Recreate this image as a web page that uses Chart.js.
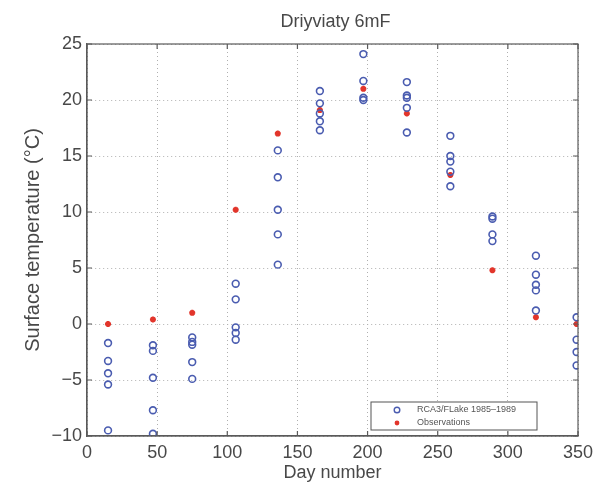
<!DOCTYPE html>
<html>
<head>
<meta charset="utf-8">
<title>Driyviaty 6mF</title>
<script src="https://cdn.jsdelivr.net/npm/chart.js@4.4.1/dist/chart.umd.min.js"></script>
<style>
  html, body { margin: 0; padding: 0; background: #fff; }
</style>
</head>
<body>
<canvas id="chart" width="604" height="485"></canvas>
<script>
// Day numbers of the sampled dates
const days = [15, 47, 75, 106, 136, 166, 197, 228, 259, 289, 320, 349];

// Observed surface temperature (deg C)
const obsTemps = [0.0, 0.4, 1.0, 10.2, 17.0, 19.1, 21.0, 18.8, 13.3, 4.8, 0.6, 0.0];

// RCA3/FLake model values, one list per day (years 1985-1989)
const modelTemps = [
    [-1.7, -3.3, -4.4, -5.4, -9.5],
    [-1.9, -2.4, -4.8, -7.7, -9.8],
    [-1.2, -1.6, -1.85, -3.4, -4.9],
    [3.6, 2.2, -0.3, -0.8, -1.4],
    [15.5, 13.1, 10.2, 8.0, 5.3],
    [20.8, 19.7, 18.8, 18.1, 17.3],
    [24.1, 21.7, 20.2, 20.0],
    [21.6, 20.4, 20.2, 19.3, 17.1],
    [16.8, 15.0, 14.5, 13.6, 12.3],
    [9.6, 9.4, 8.0, 7.4],
    [6.1, 4.4, 3.5, 3.0, 1.2],
    [0.6, -1.4, -2.5, -3.7]
];

const xTicks = [0, 50, 100, 150, 200, 250, 300, 350];
const yTicks = [-10, -5, 0, 5, 10, 15, 20, 25];

const titleText = 'Driyviaty 6mF';
const modelLabel = 'RCA3/FLake 1985\u20131989';
const obsLabel = 'Observations';

const blue = '#4a5cb0';
const red = '#e2352b';
const axisColor = '#5a5a5a';
const textColor = '#484848';
const fontFamily = '"Liberation Sans", Arial, Helvetica, sans-serif';

const modelPoints = [];
days.forEach((d, i) => {
    modelTemps[i].forEach(t => modelPoints.push({ x: d, y: t }));
});
const obsPoints = days.map((d, i) => ({ x: d, y: obsTemps[i] }));

// draws the title over the plot, the MATLAB style box, inward ticks and the framed legend
const frameAndLegend = {
    id: 'frameAndLegend',
    afterDatasetsDraw(chart) {
        const { ctx, chartArea: a, scales } = chart;
        ctx.save();

        ctx.fillStyle = textColor;
        ctx.font = '18px ' + fontFamily;
        ctx.textAlign = 'center';
        ctx.textBaseline = 'middle';
        ctx.fillText(titleText, (a.left + a.right) / 2 + 3, 22);

        ctx.strokeStyle = axisColor;
        ctx.lineWidth = 1.2;
        ctx.strokeRect(a.left, a.top, a.right - a.left, a.bottom - a.top);

        // inward tick marks
        ctx.beginPath();
        xTicks.forEach(v => {
            const px = scales.x.getPixelForValue(v);
            ctx.moveTo(px, a.bottom); ctx.lineTo(px, a.bottom - 5);
            ctx.moveTo(px, a.top); ctx.lineTo(px, a.top + 5);
        });
        yTicks.forEach(v => {
            const py = scales.y.getPixelForValue(v);
            ctx.moveTo(a.left, py); ctx.lineTo(a.left + 5, py);
            ctx.moveTo(a.right, py); ctx.lineTo(a.right - 5, py);
        });
        ctx.stroke();

        // legend box
        const lx = a.right - 207, ly = a.bottom - 34, lw = 166, lh = 28;
        ctx.fillStyle = '#fff';
        ctx.fillRect(lx, ly, lw, lh);
        ctx.strokeStyle = '#555';
        ctx.lineWidth = 1;
        ctx.strokeRect(lx, ly, lw, lh);

        const mx = lx + 26;
        const row1 = ly + 8, row2 = ly + 21;
        ctx.strokeStyle = blue;
        ctx.lineWidth = 1.4;
        ctx.beginPath();
        ctx.arc(mx, row1, 2.8, 0, Math.PI * 2);
        ctx.stroke();

        ctx.fillStyle = red;
        ctx.beginPath();
        ctx.arc(mx, row2, 2.4, 0, Math.PI * 2);
        ctx.fill();

        ctx.fillStyle = '#555';
        ctx.font = '9px ' + fontFamily;
        ctx.textAlign = 'left';
        ctx.textBaseline = 'middle';
        ctx.fillText(modelLabel, lx + 46, row1);
        ctx.fillText(obsLabel, lx + 46, row2);
        ctx.restore();
    }
};

const ctx = document.getElementById('chart').getContext('2d');
new Chart(ctx, {
    type: 'scatter',
    data: {
        datasets: [{
            label: modelLabel,
            data: modelPoints,
            pointStyle: 'circle',
            pointRadius: 3.4,
            borderColor: blue,
            backgroundColor: 'rgba(0,0,0,0)',
            borderWidth: 1.6
        }, {
            label: obsLabel,
            data: obsPoints,
            pointStyle: 'star',
            pointRadius: 3,
            borderColor: red,
            backgroundColor: red,
            borderWidth: 2
        }]
    },
    options: {
        responsive: false,
        animation: false,
        layout: { padding: { top: 44, right: 26, bottom: 0, left: 0 } },
        plugins: {
            legend: { display: false },
            tooltip: { enabled: false },
            title: { display: false }
        },
        scales: {
            x: {
                type: 'linear',
                min: 0,
                max: 350,
                afterBuildTicks: scale => { scale.ticks = xTicks.map(v => ({ value: v })); },
                afterFit: scale => { scale.height = 49; },
                ticks: {
                    color: textColor,
                    font: { family: fontFamily, size: 18 },
                    padding: 6,
                    maxRotation: 0
                },
                grid: { color: '#b0b0b0', drawTicks: false, lineWidth: 1 },
                border: { color: axisColor, width: 1.2, dash: [1, 3] },
                title: {
                    display: true,
                    text: 'Day number',
                    color: textColor,
                    font: { family: fontFamily, size: 18 },
                    padding: { top: 0, bottom: 1 }
                }
            },
            y: {
                type: 'linear',
                min: -10,
                max: 25,
                afterBuildTicks: scale => { scale.ticks = yTicks.map(v => ({ value: v })); },
                afterFit: scale => { scale.width = 87; },
                ticks: {
                    color: textColor,
                    font: { family: fontFamily, size: 18 },
                    padding: 5,
                    callback: v => (v < 0 ? '\u2212' + Math.abs(v) : String(v))
                },
                grid: { color: '#b0b0b0', drawTicks: false, lineWidth: 1 },
                border: { color: axisColor, width: 1.2, dash: [1, 3] },
                title: {
                    display: true,
                    text: 'Surface temperature (\u00b0C)',
                    color: textColor,
                    font: { family: fontFamily, size: 20 },
                    padding: { top: 21, bottom: 0 }
                }
            }
        }
    },
    plugins: [frameAndLegend]
});
</script>
</body>
</html>
